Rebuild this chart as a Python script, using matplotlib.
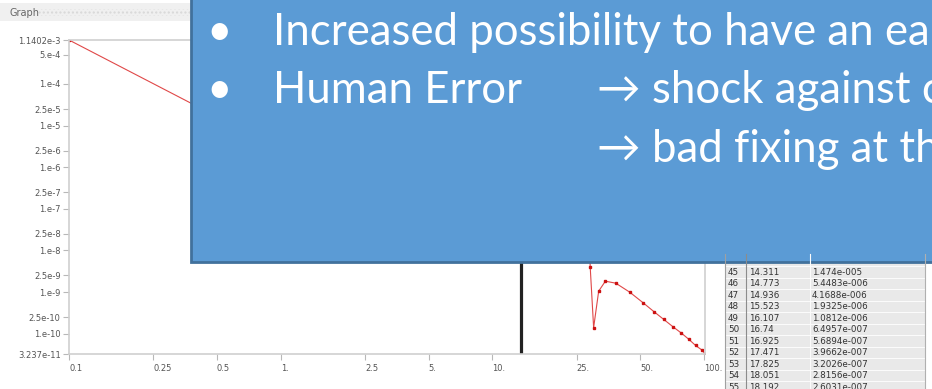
import numpy as np
import matplotlib.pyplot as plt
from matplotlib.patches import Rectangle

# values listed in the table of the screenshot (rows 45..55)
row_idx = [45, 46, 47, 48, 49, 50, 51, 52, 53, 54, 55]
row_x = ['14.311', '14.773', '14.936', '15.523', '16.107', '16.74',
         '16.925', '17.471', '17.825', '18.051', '18.192']
row_y = ['1.474e-005', '5.4483e-006', '4.1688e-006', '1.9325e-006', '1.0812e-006',
         '6.4957e-007', '5.6894e-007', '3.9662e-007', '3.2026e-007', '2.8156e-007',
         '2.6031e-007']

# curve (part of it is hidden under the blue box)
x_start = [0.1, 1.0]
y_start = [1.1402e-3, 2.64e-6]
x_tail = [28.5, 29.0, 30.1, 31.8, 34.2, 38.3, 44.6, 51.6, 57.9, 64.5,
          71.5, 78.0, 84.8, 91.2, 98.0, 100.9]
y_tail = [1.0e-7, 4.0e-9, 1.39e-10, 1.05e-9, 1.82e-9, 1.63e-9, 9.9e-10, 5.5e-10,
          3.4e-10, 2.2e-10, 1.45e-10, 1.04e-10, 7.3e-11, 5.2e-11, 4.0e-11, 3.3e-11]

x_all = x_start + [float(v) for v in row_x] + x_tail
y_all = y_start + [float(v) for v in row_y] + y_tail

cursor_x = 13.7

xticks = [0.1, 0.25, 0.5, 1, 2.5, 5, 10, 25, 50, 100]
xtick_labels = ['0.1', '0.25', '0.5', '1.', '2.5', '5.', '10.', '25.', '50.', '100.']
yticks = [1.1402e-3, 5e-4, 1e-4, 2.5e-5, 1e-5, 2.5e-6, 1e-6, 2.5e-7, 1e-7,
          2.5e-8, 1e-8, 2.5e-9, 1e-9, 2.5e-10, 1e-10, 3.237e-11]
ytick_labels = ['1.1402e-3', '5.e-4', '1.e-4', '2.5e-5', '1.e-5', '2.5e-6', '1.e-6',
                '2.5e-7', '1.e-7', '2.5e-8', '1.e-8', '2.5e-9', '1.e-9', '2.5e-10',
                '1.e-10', '3.237e-11']

W, H = 932, 389
fig = plt.figure(figsize=(W / 100, H / 100), dpi=100)
fig.patch.set_facecolor('white')

# main graph
ax = fig.add_axes([69 / W, 1 - 354 / H, (705 - 69) / W, (354 - 40) / H])
ax.plot(x_all, y_all, color='#e04848', lw=0.8, marker='s', ms=1.5,
        mfc='#cc1111', mec='#cc1111')
ax.axvline(cursor_x, color='#222222', lw=2.3)
ax.set_xscale('log')
ax.set_yscale('log')
ax.set_xlim(0.1, 101.1)
ax.set_ylim(3.237e-11, 1.1402e-3)
ax.minorticks_off()
ax.set_xticks(xticks)
ax.set_xticklabels(xtick_labels, ha='left')
ax.set_yticks(yticks)
ax.set_yticklabels(ytick_labels)
ax.tick_params(axis='both', length=4.5, width=0.8, color='#b8b8b8',
               labelsize=6, labelcolor='#555555', pad=1.5)
ax.tick_params(axis='x', pad=3)
for s in ax.spines.values():
    s.set_color('#cfcfcf')
    s.set_linewidth(1.2)

# overlay in pixel coordinates: window title, table and slide text box
ov = fig.add_axes([0, 0, 1, 1])
ov.set_xlim(0, W)
ov.set_ylim(H, 0)
ov.axis('off')
ov.patch.set_alpha(0)
ov.set_zorder(10)

ov.add_patch(Rectangle((0, 3), 191, 18, color='#f0f0f0', lw=0))
ov.add_patch(Rectangle((38, 9), 152, 7, facecolor='none', edgecolor='#d8d8d8',
                       hatch='....', lw=0))
ov.text(10, 12.5, 'Graph', fontsize=7, color='#666666', va='center')

# table
ov.add_patch(Rectangle((725, 254), 200, 140, color='#e9e9e9', lw=0))
row_h = 11.5
for i, (n, xv, yv) in enumerate(zip(row_idx, row_x, row_y)):
    top = 266 + i * row_h
    ov.plot([725, 925], [top, top], color='#fbfbfb', lw=0.8)
    ov.text(728, top + row_h / 2 + 0.5, str(n), fontsize=6.3, color='#333333', va='center')
    ov.text(749, top + row_h / 2 + 0.5, xv, fontsize=6.3, color='#333333', va='center')
    ov.text(812, top + row_h / 2 + 0.5, yv, fontsize=6.3, color='#333333', va='center')
ov.plot([725, 725], [254, H], color='#a0a0a0', lw=0.8)
ov.plot([745.5, 745.5], [254, H], color='#8c8c8c', lw=0.8)
ov.plot([810, 810], [254, H], color='#fbfbfb', lw=0.8)
ov.plot([925, 925], [254, H], color='#b0b0b0', lw=0.8)

# blue text box
ov.add_patch(Rectangle((191, -5), 760, 267, facecolor='#5b9bd5', edgecolor='#41719c', lw=2))
fam = ['Lato', 'DejaVu Sans']
fs = 31.5
ov.text(219, 45, '•', fontsize=fs, color='white', ha='center', va='baseline', family=fam)
ov.text(273, 45, 'Increased possibility to have an ea', fontsize=fs, color='white',
        va='baseline', family=fam)
ov.text(219, 103, '•', fontsize=fs, color='white', ha='center', va='baseline', family=fam)
ov.text(273, 103, 'Human Error', fontsize=fs, color='white', va='baseline', family=fam)
ov.text(597, 103, '→ shock against c', fontsize=fs, color='white', va='baseline', family=fam)
ov.text(597, 162, '→ bad fixing at th', fontsize=fs, color='white', va='baseline', family=fam)

fig.savefig('out.png', dpi=100)
